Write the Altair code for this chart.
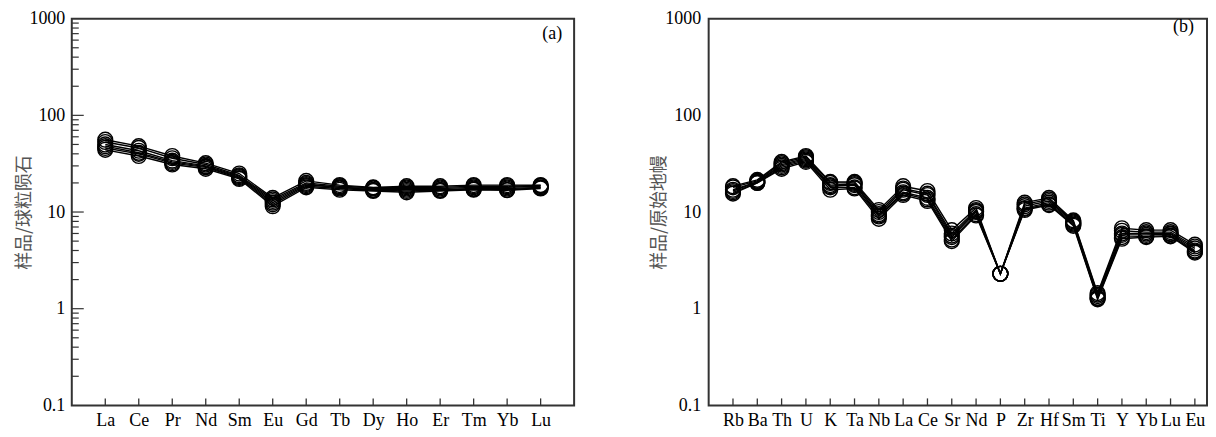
import altair as alt
import pandas as pd

# ---------------- data ----------------
ree_elements = ["La", "Ce", "Pr", "Nd", "Sm", "Eu", "Gd", "Tb", "Dy", "Ho", "Er", "Tm", "Yb", "Lu"]
ree_s1 = [56, 48, 38, 32, 25, 14.0, 21, 19.0, 18.0, 18.5, 18.5, 19.0, 19.0, 19.0]
ree_s2 = [53, 46, 36, 31, 24, 13.5, 20, 18.5, 17.8, 18.0, 18.0, 18.5, 18.5, 18.8]
ree_s3 = [50, 43, 34, 30, 23.5, 13.0, 19.5, 18.0, 17.5, 17.5, 17.5, 18.0, 18.0, 18.5]
ree_s4 = [48, 41, 33, 29.5, 23, 12.5, 19, 18.0, 17.0, 17.0, 17.0, 17.5, 17.5, 18.0]
ree_s5 = [46, 40, 32, 29, 22.5, 12.0, 18.5, 17.5, 16.8, 16.5, 16.8, 17.2, 17.0, 17.8]
ree_s6 = [44, 38, 31, 28, 22, 11.5, 18, 17.0, 16.5, 16.0, 16.5, 17.0, 16.8, 17.5]

spider_elements = ["Rb", "Ba", "Th", "U", "K", "Ta", "Nb", "La", "Ce", "Sr",
                   "Nd", "P", "Zr", "Hf", "Sm", "Ti", "Y", "Yb", "Lu", "Eu"]
spd_s1 = [18.5, 21.5, 33, 38, 20.5, 20.5, 10.5, 18.5, 16.5, 6.5, 11.0, 2.3, 12.5, 14.0, 8.2, 1.45, 6.8, 6.5, 6.5, 4.6]
spd_s2 = [18.0, 21.0, 32, 37, 20.0, 20.0, 10.0, 17.5, 15.5, 6.0, 10.5, 2.3, 12.0, 13.5, 8.0, 1.40, 6.4, 6.2, 6.2, 4.4]
spd_s3 = [17.0, 20.5, 31, 36, 19.0, 19.5, 9.5, 17.0, 15.0, 5.7, 10.2, 2.3, 11.5, 13.0, 7.8, 1.35, 6.0, 6.0, 6.0, 4.2]
spd_s4 = [16.5, 20.5, 30, 35, 18.5, 19.0, 9.2, 16.0, 14.0, 5.5, 10.0, 2.3, 11.0, 12.5, 7.6, 1.30, 5.8, 5.8, 5.9, 4.0]
spd_s5 = [16.0, 20.0, 29, 34, 18.0, 18.0, 9.0, 15.5, 13.5, 5.2, 9.5, 2.3, 10.8, 12.0, 7.4, 1.28, 5.5, 5.6, 5.7, 3.9]
spd_s6 = [15.5, 20.0, 28, 33, 17.0, 17.5, 8.5, 15.0, 13.0, 5.0, 9.2, 2.3, 10.5, 11.8, 7.2, 1.25, 5.3, 5.5, 5.6, 3.8]

y_label_values = [0.1, 1, 10, 100, 1000]
y_major_ticks = [1, 10, 100]
y_minor_ticks = [0.2, 0.3, 0.4, 0.5, 0.6, 0.7, 0.8, 0.9,
                 2, 3, 4, 5, 6, 7, 8, 9,
                 20, 30, 40, 50, 60, 70, 80, 90,
                 200, 300, 400, 500, 600, 700, 800, 900]
panel_labels = ["(a)", "(b)"]
y_titles = ["样品/球粒陨石", "样品/原始地幔"]

SERIF = "Liberation Serif"
CJK = "Noto Sans CJK SC"
H = 388


def long_df(elements, samples):
    rows = []
    for si, s in enumerate(samples):
        for i, (e, v) in enumerate(zip(elements, s)):
            rows.append({"element": e, "idx": i, "sample": f"s{si}", "value": v})
    return pd.DataFrame(rows)


def panel(elements, samples, ytitle, label, label_dx, label_y, width,
          pad, align, ytick, lab_pad, title_pad):
    df = long_df(elements, samples)
    xscale = alt.Scale(domain=elements, type="point", padding=pad, align=align)
    yscale = alt.Scale(type="log", domain=[0.1, 1000], nice=False)

    x_enc = alt.X("element:N", scale=xscale, sort=elements,
                  axis=alt.Axis(title=None, labelAngle=0, ticks=False, domain=False,
                                grid=False, labelFont=SERIF, labelFontSize=18,
                                labelColor="black", labelPadding=6, labelOverlap=False))
    y_enc = alt.Y("value:Q", scale=yscale,
                  axis=alt.Axis(values=y_label_values, format="~g", ticks=False,
                                domain=False, grid=False, title=ytitle,
                                titleFont=CJK, titleFontSize=18, titleColor="#555",
                                titleFontWeight="normal", titlePadding=title_pad,
                                labelFont=SERIF, labelFontSize=18, labelColor="black",
                                labelPadding=lab_pad))

    lines = alt.Chart(df).mark_line(color="black", strokeWidth=1.4).encode(
        x=x_enc, y=y_enc, detail="sample:N", order="idx:Q")
    pts = alt.Chart(df).mark_point(shape="circle", filled=False, color="black",
                                    size=220, strokeWidth=1.4, opacity=1).encode(
        x=alt.X("element:N"), y=alt.Y("value:Q"))

    tick_df = pd.DataFrame({"element": elements})
    xticks = alt.Chart(tick_df).mark_rule(color="#333", strokeWidth=1.3).encode(
        x=alt.X("element:N"),
        y=alt.value(H), y2=alt.value(H - 7))

    txt = alt.Chart(pd.DataFrame({"t": [label]})).mark_text(
        align="right", baseline="middle", font=SERIF, fontSize=18, color="black").encode(
        text="t:N", x=alt.value(width - label_dx), y=alt.value(label_y))

    layers = [lines, pts, xticks, txt]
    if ytick:
        minor = alt.Chart(pd.DataFrame({"value": y_minor_ticks})).mark_rule(
            color="#333", strokeWidth=1.2).encode(
            y=alt.Y("value:Q"), x=alt.value(0), x2=alt.value(7))
        major = alt.Chart(pd.DataFrame({"value": y_major_ticks})).mark_rule(
            color="#333", strokeWidth=1.2).encode(
            y=alt.Y("value:Q"), x=alt.value(0), x2=alt.value(12))
        layers += [minor, major]

    return alt.layer(*layers).properties(width=width, height=H)


left = panel(ree_elements,
             [ree_s1, ree_s2, ree_s3, ree_s4, ree_s5, ree_s6],
             y_titles[0], panel_labels[0], 12, 15, 504, 1.0, 0.5, True, 7, -5)
right = panel(spider_elements,
              [spd_s1, spd_s2, spd_s3, spd_s4, spd_s5, spd_s6],
              y_titles[1], panel_labels[1], 13, 8, 500, 0.75, 0.667, False, 8, -4)

chart = alt.hconcat(left, right, spacing=75).properties(
    padding={"left": 7, "top": 0, "right": 0, "bottom": 0},
    background="white"
).configure_view(stroke="#333", strokeWidth=2).configure_axis(
    labelFont=SERIF, labelFontSize=18, labelColor="black",
    titleFont=CJK, titleFontSize=18, titleColor="#555", titleFontWeight="normal"
).configure_text(font=SERIF)

chart.save("out.html", embed_options={"renderer": "svg", "actions": False})
